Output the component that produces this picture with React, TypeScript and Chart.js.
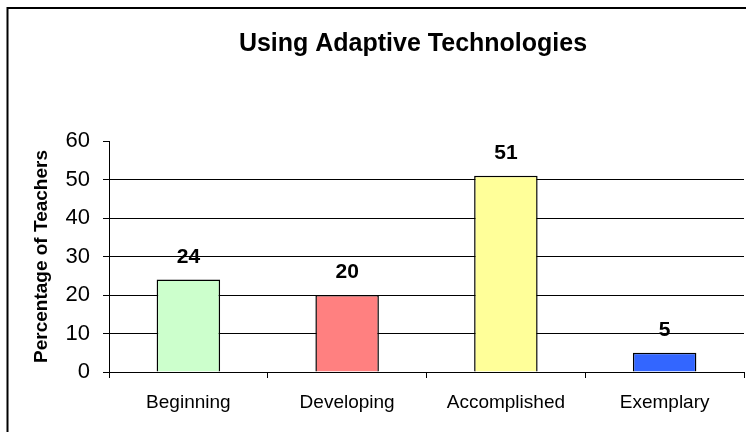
import React, { useEffect, useRef } from "react";
import { Chart, registerables } from "chart.js";

Chart.register(...registerables);

const categories = ["Beginning", "Developing", "Accomplished", "Exemplary"];
const values = [24, 20, 51, 5];
const barColors = ["#CCFFCC", "#FF8080", "#FFFF99", "#3366FF"];
const yTicks = [0, 10, 20, 30, 40, 50, 60];
const chartTitle = "Using Adaptive Technologies";
const yTitle = "Percentage of Teachers";

const FONT = "'Liberation Sans', Arial, sans-serif";

export default function App() {
  const ref = useRef<HTMLCanvasElement | null>(null);

  useEffect(() => {
    if (!ref.current) return;
    const framePlugin = {
      id: "frame",
      beforeDraw(chart: any) {
        const ctx = chart.ctx;
        ctx.save();
        ctx.fillStyle = "#fff";
        ctx.fillRect(0, 0, chart.width, chart.height);
        ctx.strokeStyle = "#000";
        ctx.lineWidth = 2;
        ctx.beginPath();
        ctx.moveTo(7.5, chart.height);
        ctx.lineTo(7.5, 8);
        ctx.lineTo(chart.width, 8);
        ctx.stroke();
        ctx.restore();
      },
      afterDraw(chart: any) {
        const ctx = chart.ctx;
        ctx.save();
        ctx.fillStyle = "#000";
        ctx.textAlign = "center";
        ctx.textBaseline = "alphabetic";
        ctx.font = `bold 25px ${FONT}`;
        ctx.fillText(chartTitle, 413, 51);
        ctx.font = `bold 21px ${FONT}`;
        const meta = chart.getDatasetMeta(0);
        meta.data.forEach((bar: any, i: number) => {
          ctx.fillText(String(values[i]), bar.x, bar.y - 17);
        });
        ctx.restore();
      },
    };

    const chart = new Chart(ref.current, {
      type: "bar",
      data: {
        labels: categories,
        datasets: [
          {
            data: values,
            backgroundColor: barColors,
            borderColor: "#000",
            borderWidth: 1.5,
            categoryPercentage: 1,
            barPercentage: 0.4,
          },
        ],
      },
      options: {
        responsive: false,
        animation: false,
        layout: { padding: { top: 141, right: 2, left: 0, bottom: 0 } },
        plugins: {
          legend: { display: false },
          title: { display: false },
          tooltip: { enabled: false },
        },
        scales: {
          x: {
            afterFit: (s: any) => {
              s.height = 60;
            },
            grid: {
              offset: true,
              drawOnChartArea: false,
              drawTicks: true,
              tickLength: 6,
              color: "#000",
            },
            border: { display: true, color: "#000", width: 1 },
            ticks: {
              color: "#000",
              padding: 13,
              font: { family: FONT, size: 19 },
            },
          },
          y: {
            min: 0,
            max: 60,
            afterFit: (s: any) => {
              s.width = 109;
            },
            afterBuildTicks: (s: any) => {
              s.ticks = yTicks.map((v) => ({ value: v }));
            },
            grid: {
              color: (c: any) => (c.tick && c.tick.value === 60 ? "rgba(0,0,0,0)" : "#000"),
              tickColor: "#000",
              tickLength: 6,
              drawTicks: true,
            },
            border: { display: true, color: "#000", width: 1 },
            ticks: {
              color: "#000",
              padding: 13,
              font: { family: FONT, size: 22 },
            },
            title: {
              display: true,
              text: yTitle,
              color: "#000",
              padding: { top: 30, bottom: 0 },
              font: { family: FONT, size: 19, weight: "bold" },
            },
          },
        },
      },
      plugins: [framePlugin],
    });
    return () => chart.destroy();
  }, []);

  return (
    <div style={{ position: "fixed", left: 0, top: 0, width: 746, height: 432 }}>
      <canvas ref={ref} width={746} height={432} style={{ width: 746, height: 432 }} />
    </div>
  );
}
